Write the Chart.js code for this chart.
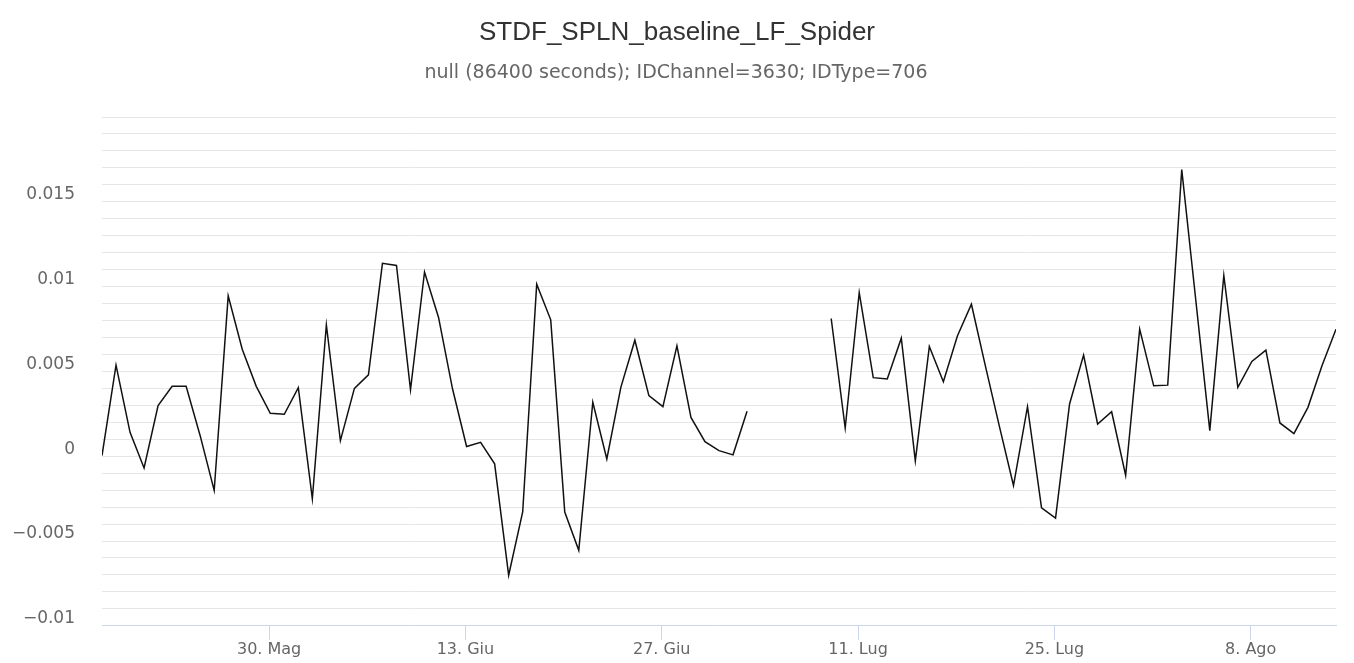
<!DOCTYPE html>
<html>
<head>
<meta charset="utf-8">
<script src="https://cdn.jsdelivr.net/npm/chart.js@4.4.1/dist/chart.umd.min.js"></script>
<style>
  html, body { margin: 0; padding: 0; background: #ffffff; }
  #wrap { width: 1354px; height: 663px; position: relative; }
</style>
</head>
<body>
<div id="wrap"><canvas id="c" width="1354" height="663"></canvas></div>
<script>
// ---- data ----
const chartTitle = 'STDF_SPLN_baseline_LF_Spider';
const chartSubtitle = 'null (86400 seconds); IDChannel=3630; IDType=706';
// daily values from 18 May to 14 Aug (index 0 = 18 May); null = missing day
const seriesValues = [
  -0.00096, 0.00437, 0.00041, -0.00169, 0.00198, 0.00312, 0.00312, 0.00021, -0.00302, 0.00845,
  0.00531, 0.00312, 0.00153, 0.00147, 0.00304, -0.00351, 0.00674, -0.00008, 0.00300, 0.00380,
  0.01037, 0.01025, 0.00292, 0.00986, 0.00718, 0.00296, -0.00043, -0.00018, -0.00145, -0.00802,
  -0.00429, 0.00914, 0.00704, -0.00429, -0.00655, 0.00218, -0.00116, 0.00306, 0.00584, 0.00257,
  0.00192, 0.00551, 0.00129, -0.00014, -0.00067, -0.00092, 0.00165,
  null, null, null, null, null,
  0.00712, 0.00066, 0.00865, 0.00363, 0.00355, 0.00596, -0.00128, 0.00547, 0.00339, 0.00609,
  0.00796, 0.00431, 0.00074, -0.00273, 0.00192, -0.00404, -0.00465, 0.00208, 0.00496, 0.00090,
  0.00162, -0.00214, 0.00649, 0.00315, 0.00319, 0.01590, 0.00821, 0.00051, 0.00966, 0.00306,
  0.00459, 0.00525, 0.00096, 0.00033, 0.00188, 0.00433, 0.00649
];
const tickIndices = [12, 26, 40, 54, 68, 82];
const tickLabels = ['30. Mag', '13. Giu', '27. Giu', '11. Lug', '25. Lug', '8. Ago'];
const yMajorValues = [-0.01, -0.005, 0, 0.005, 0.01, 0.015];
const yMajorLabels = ['\u22120.01', '\u22120.005', '0', '0.005', '0.01', '0.015'];

// points are stamped 00:00 UTC, shown in local time (+2h)
const hourShift = 2 / 24;
const points = seriesValues.map((v, i) => ({ x: i + hourShift, y: v }));

const LABEL_FONT = '"DejaVu Sans", "Liberation Sans", sans-serif';
const TITLE_FONT = '"Liberation Sans", Arial, sans-serif';

const titlePlugin = {
  id: 'hcTitle',
  afterDraw(chart) {
    const ctx = chart.ctx;
    ctx.save();
    ctx.textAlign = 'center';
    ctx.textBaseline = 'middle';
    ctx.fillStyle = '#333333';
    ctx.font = '26px ' + TITLE_FONT;
    ctx.fillText(chartTitle, 677, 33);
    ctx.fillStyle = '#666666';
    ctx.font = '19px ' + LABEL_FONT;
    ctx.fillText(chartSubtitle, 676, 73);
    ctx.restore();
  }
};

const bgPlugin = {
  id: 'bg',
  beforeDraw(chart) {
    const ctx = chart.ctx;
    ctx.save();
    ctx.fillStyle = '#ffffff';
    ctx.fillRect(0, 0, chart.width, chart.height);
    ctx.restore();
  }
};

new Chart(document.getElementById('c'), {
  type: 'line',
  data: {
    datasets: [{
      data: points,
      borderColor: '#111111',
      borderWidth: 1.5,
      pointRadius: 0,
      pointHoverRadius: 0,
      tension: 0,
      spanGaps: false,
      fill: false
    }]
  },
  options: {
    responsive: false,
    animation: false,
    events: [],
    layout: { padding: { left: 0, right: 18, top: 117, bottom: 0 } },
    plugins: {
      legend: { display: false },
      tooltip: { enabled: false },
      title: { display: false }
    },
    scales: {
      x: {
        type: 'linear',
        min: hourShift,
        max: seriesValues.length - 1 + hourShift,
        afterBuildTicks(scale) {
          scale.ticks = tickIndices.map(v => ({ value: v }));
        },
        afterFit(scale) { scale.height = 36; },
        ticks: {
          autoSkip: false,
          maxRotation: 0,
          color: '#666666',
          font: { family: LABEL_FONT, size: 16 },
          padding: 0,
          callback(value) {
            const k = tickIndices.indexOf(value);
            return k >= 0 ? tickLabels[k] : '';
          }
        },
        grid: {
          drawOnChartArea: false,
          drawTicks: true,
          tickLength: 14,
          tickColor: '#ccd6eb',
          lineWidth: 1
        },
        border: { display: true, color: '#ccd6eb', width: 1 }
      },
      y: {
        type: 'linear',
        min: -0.011,
        max: 0.019,
        afterFit(scale) { scale.width = 102; },
        ticks: {
          stepSize: 0.001,
          autoSkip: false,
          color: '#666666',
          font: { family: LABEL_FONT, size: 17 },
          padding: 27,
          labelOffset: 10,
          callback(value) {
            for (let k = 0; k < yMajorValues.length; k++) {
              if (Math.abs(value - yMajorValues[k]) < 1e-9) return yMajorLabels[k];
            }
            return '';
          }
        },
        grid: {
          color: '#e6e6e6',
          lineWidth: 1,
          drawTicks: false
        },
        border: { display: false }
      }
    }
  },
  plugins: [bgPlugin, titlePlugin]
});
</script>
</body>
</html>
